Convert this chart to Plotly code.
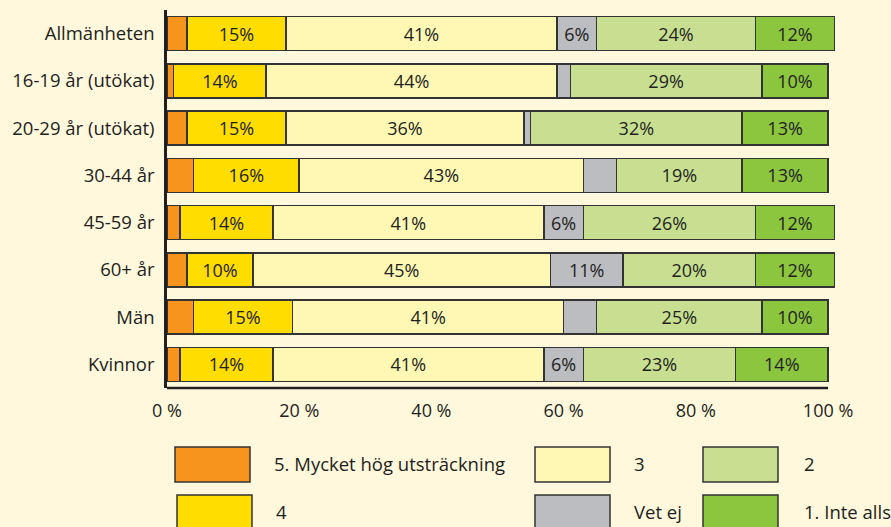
import plotly.graph_objects as go

categories = ["Allmänheten", "16-19 år (utökat)", "20-29 år (utökat)", "30-44 år",
              "45-59 år", "60+ år", "Män", "Kvinnor"]

series_names = ["5. Mycket hög utsträckning", "4", "3", "Vet ej", "2", "1. Inte alls"]
v5 = [3, 1, 3, 4, 2, 3, 4, 2]
v4 = [15, 14, 15, 16, 14, 10, 15, 14]
v3 = [41, 44, 36, 43, 41, 45, 41, 41]
vet_ej = [6, 2, 1, 5, 6, 11, 5, 6]
v2 = [24, 29, 32, 19, 26, 20, 25, 23]
v1 = [12, 10, 13, 13, 12, 12, 10, 14]

tick_vals = [0, 20, 40, 60, 80, 100]
tick_text = ["0 %", "20 %", "40 %", "60 %", "80 %", "100 %"]

colors = ["#F7941E", "#FFDD00", "#FFF8B5", "#BCBDC1", "#C8DF91", "#8CC63F"]
BG = "#FFF8DC"
INK = "#231F20"
FONT = "Open Sans"

W, H = 891, 527
L, R, T, B = 167, 56, 10, 139


def px_x(x):
    return (x - L) / (W - L - R)


def px_y(y):
    return (H - B - y) / (H - T - B)


fig = go.Figure()
for name, vals, col in zip(series_names, [v5, v4, v3, vet_ej, v2, v1], colors):
    fig.add_trace(go.Bar(
        y=categories, x=vals, name=name, orientation="h",
        marker=dict(color=col, line=dict(color="#333333", width=1.5)),
        text=[f"{v}%" if v >= 6 else "" for v in vals],
        textposition="inside", insidetextanchor="middle",
        textfont=dict(family=FONT, size=18, color=INK),
        showlegend=False,
    ))

# x axis baseline from 0 to 100 %
fig.add_shape(type="line", xref="x", yref="paper", x0=0, x1=100, y0=0, y1=0,
              line=dict(color=INK, width=2.5))

# legend drawn as large swatches
legend_items = [
    (0, 0, 175, 272), (2, 0, 535, 632), (4, 0, 703, 802),
    (1, 1, 177, 274), (3, 1, 535, 632), (5, 1, 703, 802),
]
for idx, row, bx, tx in legend_items:
    y0 = 447 + row * 48
    fig.add_shape(type="rect", xref="paper", yref="paper",
                  x0=px_x(bx), x1=px_x(bx + 75), y0=px_y(y0), y1=px_y(y0 + 35),
                  fillcolor=colors[idx], line=dict(color="#333333", width=1.5))
    fig.add_annotation(xref="paper", yref="paper", x=px_x(tx), y=px_y(y0 + 17),
                       text=series_names[idx], showarrow=False,
                       xanchor="left", yanchor="middle",
                       font=dict(family=FONT, size=18.5, color=INK))

fig.update_layout(
    barmode="stack", bargap=0.28,
    width=W, height=H,
    margin=dict(l=L, r=R, t=T, b=B, autoexpand=False),
    paper_bgcolor=BG, plot_bgcolor=BG,
    font=dict(family=FONT, size=18, color=INK),
    uniformtext=dict(minsize=18, mode="show"),
)
fig.update_xaxes(range=[0, 101.05], tickvals=tick_vals, ticktext=tick_text,
                 showgrid=False, zeroline=False, showline=False, automargin=False,
                 ticklabelstandoff=10, tickfont=dict(size=18))
fig.update_yaxes(autorange="reversed", showgrid=False, zeroline=False,
                 showline=True, linecolor=INK, linewidth=2.5, automargin=False,
                 ticklabelstandoff=6, tickfont=dict(size=18.5))

fig.write_html("out.html", config={"displayModeBar": False},
               post_script="document.body.style.margin = '0';")
